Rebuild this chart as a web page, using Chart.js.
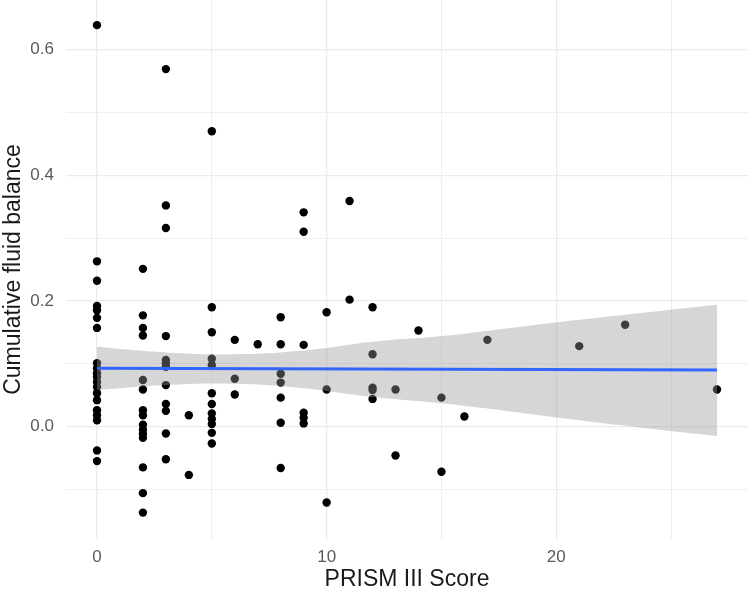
<!DOCTYPE html>
<html>
<head>
<meta charset="utf-8">
<script src="https://cdn.jsdelivr.net/npm/chart.js@4/dist/chart.umd.min.js"></script>
<style>
html,body{margin:0;padding:0;background:#ffffff;}
#wrap{width:750px;height:593px;}
</style>
</head>
<body>
<div id="wrap"><canvas id="c" width="750" height="593"></canvas></div>
<script>
// ---- Data ----
const prismScore = [
  0,0,0,0,0,0,0,0,0,0,0,0,0,0,0,0,0,0,0,0,
  2,2,2,2,2,2,2,2,2,2,2,2,2,2,2,
  3,3,3,3,3,3,3,3,3,3,3,3,
  4,4,
  5,5,5,5,5,5,5,5,5,5,5,5,
  6,6,6,
  7,
  8,8,8,8,8,8,8,
  9,9,9,9,9,9,
  10,10,10,
  11,11,
  12,12,12,12,12,
  13,13,
  14,
  15,15,
  16,
  17,
  21,
  23,
  27
];
const fluidBalance = [
  0.639,0.263,0.232,0.192,0.185,0.173,0.157,0.101,0.093,0.085,0.079,0.071,0.063,0.053,0.042,0.026,0.018,0.010,-0.038,-0.055,
  0.251,0.177,0.157,0.145,0.074,0.059,0.026,0.018,0.003,-0.005,-0.012,-0.018,-0.065,-0.106,-0.137,
  0.569,0.352,0.316,0.144,0.106,0.100,0.095,0.066,0.036,0.025,-0.011,-0.052,
  0.018,-0.077,
  0.470,0.190,0.150,0.108,0.098,0.053,0.036,0.021,0.012,0.004,-0.010,-0.027,
  0.138,0.076,0.051,
  0.131,
  0.174,0.131,0.084,0.070,0.046,0.006,-0.066,
  0.341,0.310,0.130,0.022,0.014,0.005,
  0.182,0.059,-0.121,
  0.359,0.202,
  0.190,0.115,0.062,0.058,0.044,
  0.059,-0.046,
  0.153,
  0.046,-0.072,
  0.016,
  0.138,
  0.128,
  0.162,
  0.059
];

// Fitted regression line and its confidence band
const fitX = [0, 27];
const fitY = [0.093, 0.090];
const bandX     = [0,     3,     6,     9,     12,    15,    18,    21,    24,     27];
const bandLower = [0.058, 0.066, 0.068, 0.061, 0.047, 0.037, 0.024, 0.010, -0.003, -0.015];
const bandUpper = [0.127, 0.118, 0.115, 0.121, 0.135, 0.144, 0.157, 0.170, 0.182,  0.194];

// Axis ticks / labels
const xGridValues = [0, 5, 10, 15, 20, 25];
const xTickLabels = ['0', '', '10', '', '20', ''];
const yGridValues = [-0.1, 0.0, 0.1, 0.2, 0.3, 0.4, 0.5, 0.6];
const yTickLabels = ['', '0.0', '', '0.2', '', '0.4', '', '0.6'];

const xTitle = 'PRISM III Score';
const yTitle = 'Cumulative fluid balance';

// ---- Build datasets ----
const pts = prismScore.map((x, i) => ({x: x, y: fluidBalance[i]}));
const fitPts = fitX.map((x, i) => ({x: x, y: fitY[i]}));
const upPts = bandX.map((x, i) => ({x: x, y: bandUpper[i]}));
const loPts = bandX.map((x, i) => ({x: x, y: bandLower[i]}));

const gridColor = '#ebebeb';
const tickColor = '#5a5a5a';
const fontFamily = '"Liberation Sans", Arial, sans-serif';

function zeroPad(s) { s.paddingTop = 0; s.paddingBottom = 0; s.paddingLeft = 0; s.paddingRight = 0; }

new Chart(document.getElementById('c'), {
  type: 'scatter',
  data: {
    datasets: [
      { // fitted line (top-most)
        data: fitPts, showLine: true, borderColor: '#3366FF', borderWidth: 3,
        pointRadius: 0, fill: false, order: 0
      },
      { // band upper
        data: upPts, showLine: true, borderWidth: 0, borderColor: 'rgba(0,0,0,0)',
        pointRadius: 0, fill: false, order: 1, tension: 0.4
      },
      { // band lower, filled to upper
        data: loPts, showLine: true, borderWidth: 0, borderColor: 'rgba(0,0,0,0)',
        pointRadius: 0, fill: '-1', backgroundColor: 'rgba(153,153,153,0.4)', order: 1, tension: 0.4
      },
      { // observations
        data: pts, showLine: false, pointRadius: 4.2, pointHoverRadius: 4.2,
        backgroundColor: '#000000', borderWidth: 0, order: 3
      }
    ]
  },
  options: {
    responsive: false,
    animation: false,
    events: [],
    layout: { autoPadding: false, padding: { left: 0, right: 2, top: 0, bottom: 0 } },
    plugins: { legend: { display: false }, tooltip: { enabled: false } },
    scales: {
      x: {
        type: 'linear', min: -1.35, max: 28.35,
        afterBuildTicks: s => { s.ticks = xGridValues.map(v => ({value: v})); },
        afterFit: s => { s.height = 54; zeroPad(s); },
        border: { display: false },
        grid: { color: gridColor, drawTicks: false,
                lineWidth: ctx => (xTickLabels[ctx.index] ? 1.3 : 0.8) },
        ticks: { color: tickColor, padding: 8, maxRotation: 0, autoSkip: false,
                 font: { family: fontFamily, size: 17 },
                 callback: (v, i) => xTickLabels[i] },
        title: { display: true, text: xTitle, color: '#1a1a1a', padding: 0,
                 font: { family: fontFamily, size: 23 } }
      },
      y: {
        type: 'linear', min: -0.179, max: 0.679,
        afterBuildTicks: s => { s.ticks = yGridValues.map(v => ({value: v})); },
        afterFit: s => { s.width = 66; zeroPad(s); },
        border: { display: false },
        grid: { color: gridColor, drawTicks: false,
                lineWidth: ctx => (yTickLabels[ctx.index] ? 1.3 : 0.8) },
        ticks: { color: tickColor, padding: 12, autoSkip: false,
                 font: { family: fontFamily, size: 17 },
                 callback: (v, i) => yTickLabels[i] },
        title: { display: true, text: yTitle, color: '#1a1a1a', padding: 0,
                 font: { family: fontFamily, size: 23 } }
      }
    }
  }
});
</script>
</body>
</html>
